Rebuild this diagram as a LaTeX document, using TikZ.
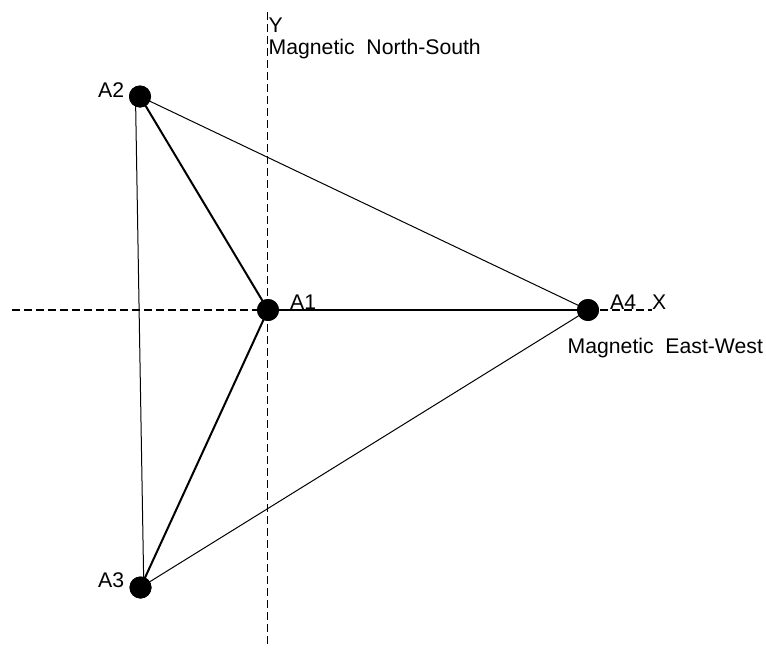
\documentclass[tikz,border=0pt]{standalone}
\usepackage{fontspec}
\setmainfont{Liberation Sans}
\begin{document}
\begin{tikzpicture}[x=1pt,y=-1pt,
  axis/.style={line width=1.2pt, dash pattern=on 8pt off 4pt},
  thick edge/.style={line width=2pt},
  thin edge/.style={line width=1pt},
  dot/.style={circle, fill=black, minimum size=22pt, inner sep=0pt},
  lbl/.style={anchor=base west, inner sep=0pt, font=\fontsize{21.2}{22}\selectfont}]
\useasboundingbox (0,0) rectangle (766,648);
\coordinate (xl) at (12,310);
\coordinate (xr) at (652,310);
\coordinate (yt) at (267.5,12);
\coordinate (yb) at (267.5,648);
\draw[axis] (xl) -- (xr);
\draw[axis] (yt) -- (yb);
\node[dot] (A1) at (268,310) {};
\node[dot] (A2) at (140,96.5) {};
\node[dot] (A3) at (140.5,587.5) {};
\node[dot] (A4) at (588,310) {};
\draw[thin edge] (A2.center) -- (A4.center);
\draw[thin edge] ([xshift=-4.5pt]A2.center) -- ([xshift=3.3pt]A3.center);
\draw[thin edge] (A3.center) -- (A4.center);
\draw[thick edge] (A1.center) -- (A2.center);
\draw[thick edge] (A1.center) -- (A3.center);
\draw[thick edge] (A1.center) -- (A4.center);
\node[dot] at (A1) {};
\node[dot] at (A2) {};
\node[dot] at (A3) {};
\node[dot] at (A4) {};
\node[lbl] (lY) at (268.5,32) {Y};
\node[lbl] (lNS) at (268.5,54) {Magnetic\ \ North-South};
\node[lbl] (lA2) at (98,97) {A2};
\node[lbl] (lA1) at (290,309) {A1};
\node[lbl] (lA4) at (610,309) {A4};
\node[lbl] (lX) at (652,309) {X};
\node[lbl] (lEW) at (567.5,353) {Magnetic\ \ East-West};
\node[lbl] (lA3) at (98,587) {A3};
\end{tikzpicture}
\end{document}
